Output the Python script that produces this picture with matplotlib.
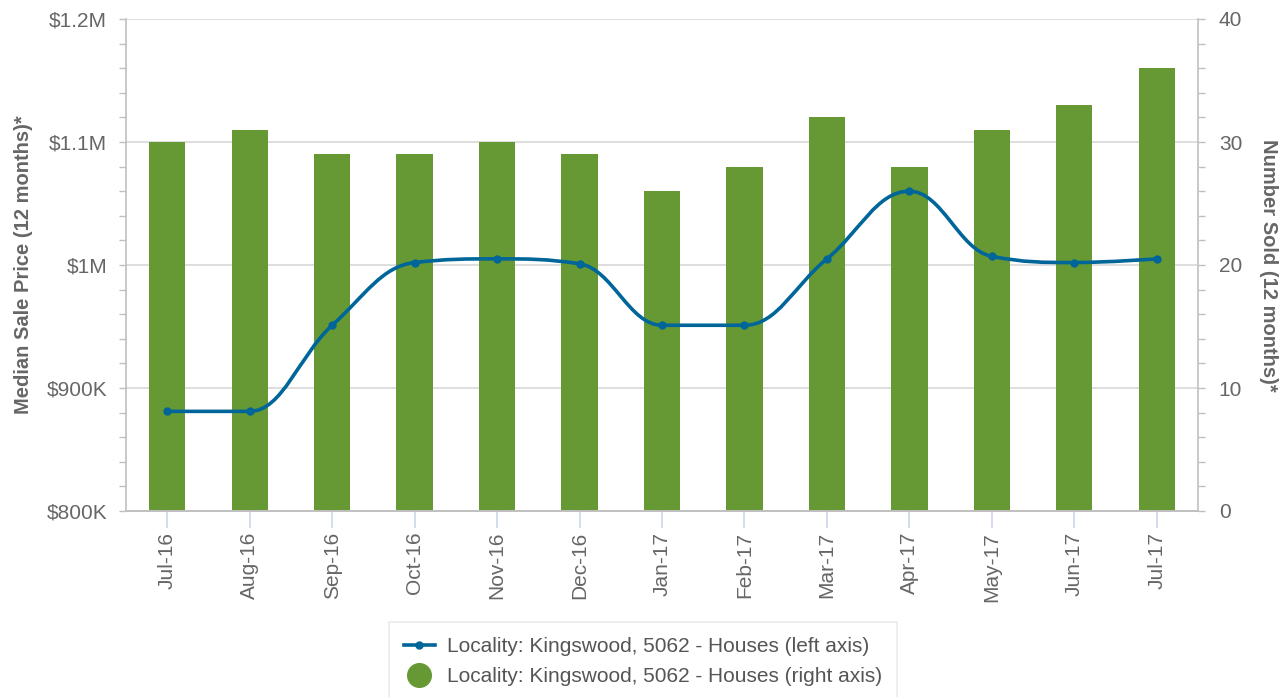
import numpy as np
import matplotlib
matplotlib.use("Agg")
from matplotlib import pyplot as plt
from matplotlib.path import Path
from matplotlib.patches import PathPatch
from matplotlib.lines import Line2D
from matplotlib.ticker import MultipleLocator, FuncFormatter

plt.rcParams['font.family'] = ['Liberation Sans', 'DejaVu Sans']

months = ['Jul-16', 'Aug-16', 'Sep-16', 'Oct-16', 'Nov-16', 'Dec-16', 'Jan-17',
          'Feb-17', 'Mar-17', 'Apr-17', 'May-17', 'Jun-17', 'Jul-17']
median_price = [881000, 881000, 951000, 1002000, 1005000, 1001000, 951000,
                951000, 1005000, 1060000, 1007000, 1002000, 1005000]
number_sold = [30, 31, 29, 29, 30, 29, 26, 28, 32, 28, 31, 33, 36]

green = '#669933'
blue = '#006699'
grey_text = '#666666'
axis_grey = '#c0c0c0'


def spline_path(xs, ys, smoothing=1.5):
    # highcharts-style spline: cubic bezier through every point
    n = len(xs)
    denom = smoothing + 1
    left = [None] * n
    right = [None] * n
    for i in range(n):
        px, py = xs[i], ys[i]
        if i == 0 or i == n - 1:
            left[i] = (px, py)
            right[i] = (px, py)
            continue
        lx, ly = xs[i - 1], ys[i - 1]
        nx, ny = xs[i + 1], ys[i + 1]
        lcx = (smoothing * px + lx) / denom
        lcy = (smoothing * py + ly) / denom
        rcx = (smoothing * px + nx) / denom
        rcy = (smoothing * py + ny) / denom
        corr = (rcy - lcy) * (rcx - px) / (rcx - lcx) + py - rcy
        lcy += corr
        rcy += corr
        if lcy > ly and lcy > py:
            lcy = max(ly, py)
            rcy = 2 * py - lcy
        elif lcy < ly and lcy < py:
            lcy = min(ly, py)
            rcy = 2 * py - lcy
        if rcy > ny and rcy > py:
            rcy = max(ny, py)
            lcy = 2 * py - rcy
        elif rcy < ny and rcy < py:
            rcy = min(ny, py)
            lcy = 2 * py - rcy
        left[i] = (lcx, lcy)
        right[i] = (rcx, rcy)
    verts = [(xs[0], ys[0])]
    codes = [Path.MOVETO]
    for i in range(1, n):
        verts += [right[i - 1], left[i], (xs[i], ys[i])]
        codes += [Path.CURVE4] * 3
    return Path(verts, codes)


fig = plt.figure(figsize=(12.88, 6.97), dpi=100)
ax = fig.add_axes([126 / 1288, 1 - 511 / 697, 1072 / 1288, 492 / 697])
ax2 = ax.twinx()

x = np.arange(len(months))

# bars on right axis (drawn below the line)
ax2.bar(x, number_sold, width=0.44, color=green, zorder=1)
ax2.set_ylim(0, 40)
ax2.yaxis.set_major_locator(MultipleLocator(10))
ax2.yaxis.set_minor_locator(MultipleLocator(2))

ax.set_zorder(ax2.get_zorder() + 1)
ax.patch.set_visible(False)
ax2.patch.set_facecolor('white')

# gridlines behind bars
for v in range(0, 41, 10):
    ax2.axhline(v, color='#d8d8d8', lw=1.2, zorder=0)

path = spline_path(list(x.astype(float)), median_price)
ax.add_patch(PathPatch(path, facecolor='none', edgecolor=blue, lw=2.6, zorder=3))
ax.plot(x, median_price, 'o', color=blue, ms=5, zorder=4)

ax.set_xlim(-0.5, len(months) - 0.5)
ax2.set_xlim(-0.5, len(months) - 0.5)
ax.set_ylim(800000, 1200000)
ax.yaxis.set_major_locator(MultipleLocator(100000))
ax.yaxis.set_minor_locator(MultipleLocator(20000))


def money(v, pos):
    if v >= 1000000:
        return '$' + ('%g' % (v / 1000000)) + 'M'
    return '$%dK' % round(v / 1000)


ax.yaxis.set_major_formatter(FuncFormatter(money))
ax.set_xticks(x)
ax.set_xticklabels(months, rotation=90)

for a in (ax, ax2):
    a.spines['top'].set_visible(False)
    for s in ('left', 'right', 'bottom'):
        a.spines[s].set_color(axis_grey)
        a.spines[s].set_linewidth(1.2)
ax.spines['right'].set_visible(False)
ax2.spines['left'].set_visible(False)

ax.tick_params(axis='y', which='major', length=5, color=axis_grey, width=1,
               labelsize=15, labelcolor=grey_text, pad=8.5)
ax.tick_params(axis='y', which='minor', length=5, color=axis_grey, width=1)
ax2.tick_params(axis='y', which='major', length=5, color=axis_grey, width=1,
                labelsize=15, labelcolor=grey_text, pad=10)
ax2.tick_params(axis='y', which='minor', length=5, color=axis_grey, width=1)
ax.tick_params(axis='x', length=12, color='#ccd6eb', width=1.2,
               labelsize=15, labelcolor=grey_text, pad=3)
ax2.tick_params(axis='x', bottom=False, labelbottom=False)

ax.set_ylabel('Median Sale Price (12 months)*', fontsize=14.5, fontweight='bold',
              color=grey_text, labelpad=10)
ax2.set_ylabel('Number Sold (12 months)*', fontsize=14.5, fontweight='bold',
               color=grey_text, rotation=270, labelpad=26)

handles = [
    Line2D([], [], color=blue, lw=2.6, marker='o', ms=5),
    Line2D([], [], color=green, lw=0, marker='o', ms=17),
]
labels = ['Locality: Kingswood, 5062 - Houses (left axis)',
          'Locality: Kingswood, 5062 - Houses (right axis)']
leg = fig.legend(handles, labels, loc='upper center',
                 bbox_to_anchor=(643 / 1288, 1 - 612 / 697),
                 frameon=True, fontsize=15, handlelength=1.5, handletextpad=0.6,
                 labelcolor='#555555', borderpad=0.7, labelspacing=0.55,
                 fancybox=False, edgecolor='#e6e6e6')
leg.get_frame().set_linewidth(1.2)

fig.savefig('out.png', dpi=100)
